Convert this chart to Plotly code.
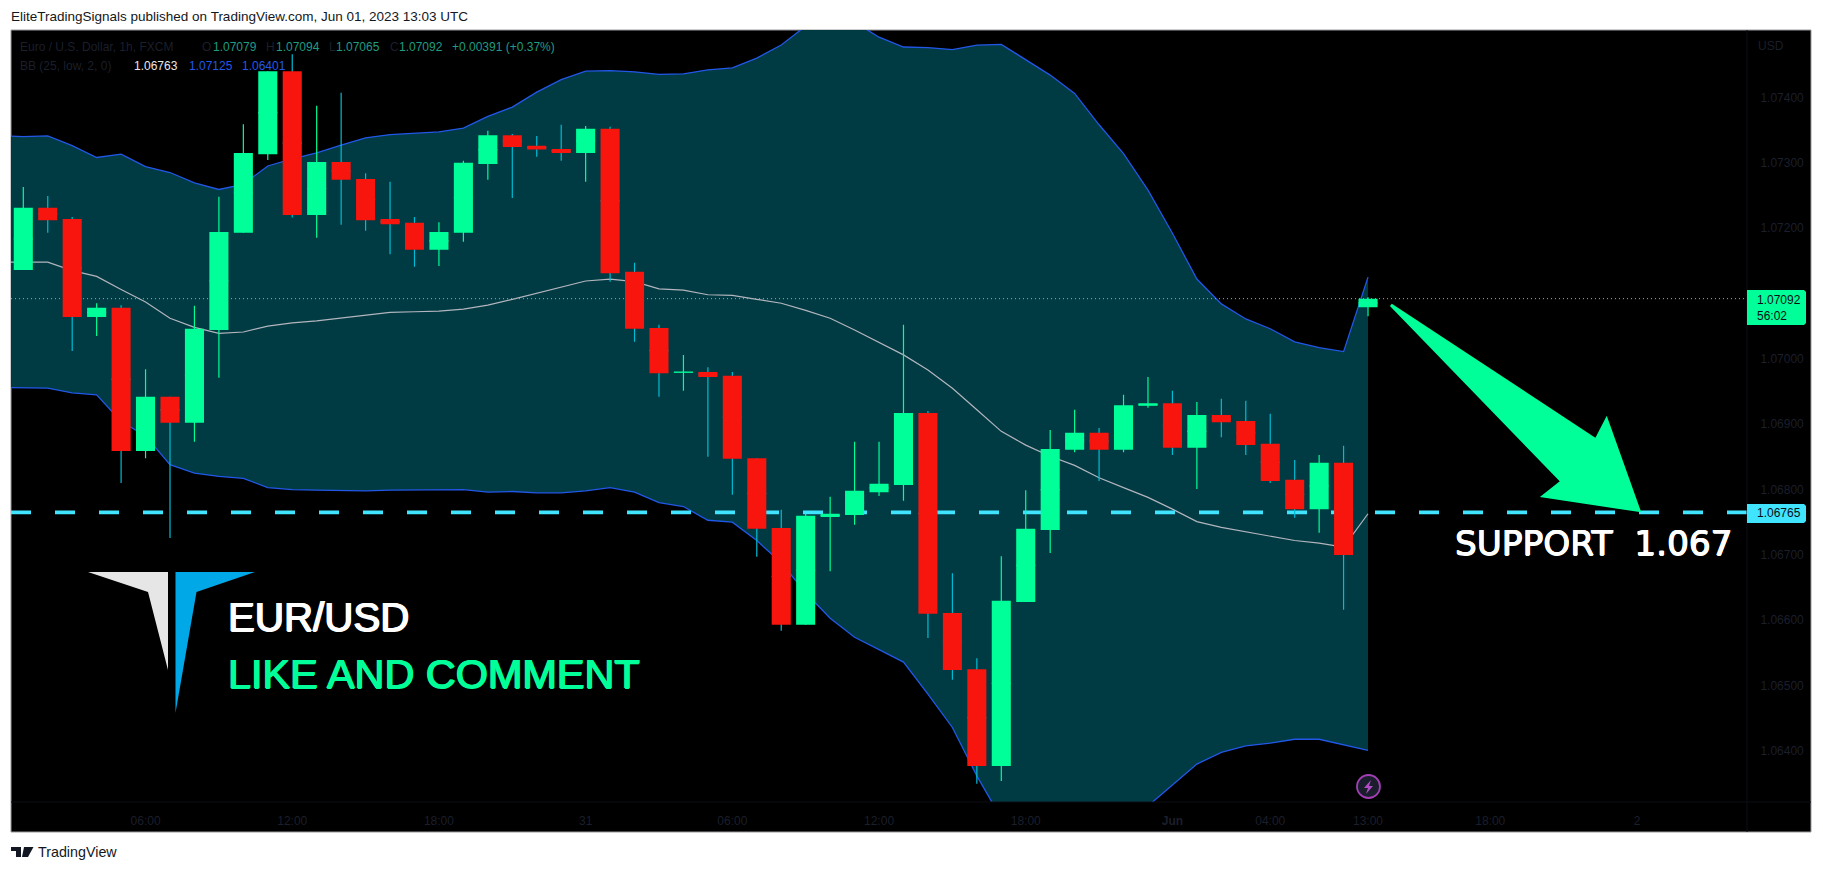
import plotly.graph_objects as go

# ---------- data ----------
opens = [1.07136,1.07231,1.07214,1.07064,1.07078,1.06859,1.06942,1.06902,1.07044,1.07193,
         1.07313,1.07440,1.07220,1.07301,1.07275,1.07214,1.07208,1.07167,1.07193,1.07298,
         1.07342,1.07326,1.07321,1.07315,1.07352,1.07133,1.07047,1.06979,1.06980,1.06974,
         1.06848,1.06741,1.06593,1.06758,1.06761,1.06796,1.06807,1.06917,1.06611,1.06525,
         1.06377,1.06628,1.06738,1.06861,1.06887,1.06861,1.06928,1.06932,1.06864,1.06914,
         1.06905,1.06870,1.06815,1.06770,1.06841,1.07079]
highs = [1.07263,1.07249,1.07217,1.07085,1.07082,1.06984,1.06942,1.07081,1.07248,1.07359,
         1.07440,1.07466,1.07387,1.07407,1.07284,1.07271,1.07217,1.07209,1.07303,1.07349,
         1.07344,1.07341,1.07358,1.07356,1.07355,1.07147,1.07052,1.07006,1.06987,1.06980,
         1.06848,1.06769,1.06763,1.06789,1.06873,1.06873,1.07052,1.06920,1.06672,1.06542,
         1.06698,1.06799,1.06891,1.06922,1.06894,1.06945,1.06972,1.06951,1.06934,1.06939,
         1.06936,1.06916,1.06845,1.06853,1.06867,1.07094]
lows = [1.07136,1.07193,1.07012,1.07035,1.06810,1.06848,1.06726,1.06873,1.06971,1.07193,
        1.07304,1.07216,1.07185,1.07205,1.07196,1.07160,1.07141,1.07142,1.07179,1.07274,
        1.07246,1.07309,1.07303,1.07271,1.07118,1.07026,1.06942,1.06951,1.06850,1.06792,
        1.06697,1.06584,1.06593,1.06675,1.06746,1.06790,1.06783,1.06573,1.06509,1.06350,
        1.06354,1.06628,1.06703,1.06857,1.06813,1.06857,1.06925,1.06853,1.06801,1.06880,
        1.06853,1.06810,1.06757,1.06734,1.06616,1.07065]
closes = [1.07231,1.07212,1.07064,1.07078,1.06859,1.06942,1.06902,1.07046,1.07194,1.07315,
          1.07440,1.07220,1.07301,1.07274,1.07212,1.07206,1.07167,1.07194,1.07300,1.07342,
          1.07324,1.07320,1.07315,1.07352,1.07131,1.07046,1.06978,1.06980,1.06972,1.06847,
          1.06740,1.06593,1.06760,1.06763,1.06798,1.06809,1.06917,1.06610,1.06524,1.06377,
          1.06630,1.06740,1.06862,1.06887,1.06861,1.06929,1.06932,1.06864,1.06914,1.06903,
          1.06868,1.06813,1.06770,1.06841,1.06700,1.07092]
bb_upper = [1.07341,1.07340,1.07341,1.07326,1.07308,1.07313,1.07294,1.07285,1.07269,1.07259,
            1.07267,1.07295,1.07306,1.07315,1.07327,1.07338,1.07343,1.07345,1.07347,1.07353,
            1.07371,1.07385,1.07408,1.07427,1.07440,1.07441,1.07439,1.07435,1.07436,1.07442,
            1.07445,1.07460,1.07480,1.07509,1.07518,1.07515,1.07492,1.07477,1.07476,1.07473,
            1.07480,1.07481,1.07458,1.07434,1.07406,1.07358,1.07314,1.07258,1.07192,1.07122,
            1.07084,1.07061,1.07046,1.07026,1.07017,1.07011,1.07125]
bb_basis = [1.07148,1.07148,1.07148,1.07135,1.07126,1.07106,1.07087,1.07062,1.07048,1.07039,
            1.07041,1.07050,1.07055,1.07058,1.07062,1.07067,1.07071,1.07072,1.07073,1.07076,
            1.07082,1.07091,1.07100,1.07109,1.07119,1.07122,1.07118,1.07107,1.07105,1.07098,
            1.07097,1.07091,1.07085,1.07074,1.07062,1.07044,1.07025,1.07006,1.06983,1.06955,
            1.06922,1.06889,1.06868,1.06851,1.06837,1.06818,1.06803,1.06788,1.06770,1.06751,
            1.06742,1.06735,1.06729,1.06722,1.06718,1.06712,1.06763]
bb_lower = [1.06956,1.06955,1.06955,1.06948,1.06945,1.06904,1.06882,1.06838,1.06825,1.06820,
            1.06817,1.06803,1.06800,1.06799,1.06798,1.06798,1.06799,1.06799,1.06799,1.06800,
            1.06796,1.06797,1.06795,1.06795,1.06798,1.06803,1.06796,1.06780,1.06774,1.06753,
            1.06750,1.06722,1.06688,1.06642,1.06603,1.06574,1.06555,1.06536,1.06487,1.06436,
            1.06362,1.06297,1.06256,1.06233,1.06241,1.06264,1.06294,1.06316,1.06348,1.06380,
            1.06398,1.06408,1.06412,1.06418,1.06418,1.06409,1.06401]
bar_index = list(range(56))
band_index = list(range(-1, 56))
support_level = 1.06765
last_price = 1.07092
# 1.07100 lies under the green price tag in the reference
price_ticks = [1.064,1.065,1.066,1.067,1.068,1.069,1.070,1.072,1.073,1.074]
time_tick_pos = [5,11,17,23,29,35,41,47,51,55,60,66]
time_tick_labels = ["06:00","12:00","18:00","31","06:00","12:00","18:00","<b>Jun</b>","04:00","13:00","18:00","2"]

# ---------- styling ----------
W, H = 1823, 872
PL, PR, PT, PB = 11, 1747, 30, 802
GREEN, RED, WICK, TEAL = "#00FF99", "#F7150D", "#00BCD4", "#003A42"
BLUE, GRAY, CYAN, DIM = "#2258E8", "#B2B5BE", "#40E4FF", "#1B1F2C"
X_RANGE = [-0.503, 70.5]
Y_RANGE = [1.06322, 1.07503]
FONT = "Liberation Sans"

def X(px): return (px - PL) / (PR - PL)
def Y(py): return (PB - py) / (PB - PT)
def path(points, close=True):
    s = "M " + " L ".join(f"{X(a):.5f},{Y(b):.5f}" for a, b in points)
    return s + (" Z" if close else "")
def poly(points, fill, line=None, lw=0, layer="above"):
    return dict(type="path", xref="paper", yref="paper", path=path(points), fillcolor=fill,
                line=dict(color=line or fill, width=lw), layer=layer)
def text(px, py, s, color, size=12, family=FONT, anchor="left", heavy=None):
    font = dict(color=color, size=size, family=family)
    if heavy:
        font["shadow"] = f"{heavy}px 0 0 {color}, -{heavy}px 0 0 {color}, 0 {heavy}px 0 {color}"
    return dict(xref="paper", yref="paper", x=X(px), y=Y(py), text=s, showarrow=False, xanchor=anchor,
                yanchor="middle", borderpad=0, borderwidth=0, font=font)

fig = go.Figure()
# Bollinger band
fig.add_trace(go.Scatter(x=band_index, y=bb_lower, mode="lines", line=dict(color=BLUE, width=1.3), hoverinfo="skip"))
fig.add_trace(go.Scatter(x=band_index, y=bb_upper, mode="lines", line=dict(color=BLUE, width=1.3), fill="tonexty",
                         fillcolor=TEAL, hoverinfo="skip"))
fig.add_trace(go.Scatter(x=band_index, y=bb_basis, mode="lines", line=dict(color=GRAY, width=1.2), hoverinfo="skip"))
fig.add_trace(go.Scatter(x=X_RANGE, y=[last_price, last_price], mode="lines",
                         line=dict(color=GREEN, width=1, dash="1px,3px"), hoverinfo="skip"))
fig.add_trace(go.Scatter(x=X_RANGE, y=[support_level, support_level], mode="lines",
                         line=dict(color=CYAN, width=3.6, dash="20px,24px"), hoverinfo="skip"))

# wicks: one collapsed-body candlestick trace per direction, then the bodies above them
up = [i for i in bar_index if closes[i] >= opens[i]]
dn = [i for i in bar_index if closes[i] < opens[i]]
for idx, col in ((up, GREEN), (dn, WICK)):
    mids = [(opens[i] + closes[i]) / 2 for i in idx]
    fig.add_trace(go.Candlestick(x=idx, open=mids, close=mids,
                                 high=[highs[i] for i in idx], low=[lows[i] for i in idx], yaxis="y2",
                                 increasing=dict(line=dict(color=col, width=1.2), fillcolor=col),
                                 decreasing=dict(line=dict(color=col, width=1.2), fillcolor=col),
                                 hoverinfo="skip"))
fig.add_trace(go.Candlestick(x=bar_index, open=opens, close=closes,
                             high=[max(o, c) for o, c in zip(opens, closes)],
                             low=[min(o, c) for o, c in zip(opens, closes)], yaxis="y2",
                             increasing=dict(line=dict(color=GREEN, width=0), fillcolor=GREEN),
                             decreasing=dict(line=dict(color=RED, width=0), fillcolor=RED),
                             hoverinfo="skip"))

shapes = [
    dict(type="rect", xref="paper", yref="paper", x0=X(PL), x1=X(1811), y0=Y(832), y1=Y(PT),
         fillcolor="#000000", line=dict(color="#9A9AA0", width=1), layer="below"),
    dict(type="line", xref="paper", yref="paper", x0=X(PR), x1=X(PR), y0=Y(832), y1=Y(PT),
         line=dict(color="#0D0F15", width=1), layer="above"),
    dict(type="line", xref="paper", yref="paper", x0=X(PL), x1=X(1811), y0=Y(PB), y1=Y(PB),
         line=dict(color="#0D0F15", width=1), layer="above"),
    # price tags
    poly([(PR, 290), (1804, 290), (1806, 292), (1806, 323), (1804, 325), (PR, 325)], GREEN),
    poly([(PR, 504), (1804, 504), (1806, 506), (1806, 521), (1804, 523), (PR, 523)], CYAN),
    # target arrow
    poly([(1391, 305), (1596, 440), (1606.5, 419.5), (1639, 510.5), (1543.5, 496), (1562, 481.5)], GREEN, GREEN, 3),
    # brand logo
    poly([(88, 572), (168, 572), (168, 670), (148, 592)], "#E6E6E6"),
    poly([(175.5, 572), (255, 572), (196.5, 592), (175.5, 713)], "#00A8E8"),
    # alert badge
    dict(type="circle", xref="paper", yref="paper", x0=X(1357), x1=X(1380), y0=Y(798), y1=Y(775),
         fillcolor="#1A1D2B", line=dict(color="#A23FB5", width=1.8), layer="above"),
    poly([(1371, 780), (1364, 788), (1368, 788), (1366, 794), (1373, 786), (1369, 786)], "#B14CC4"),
    # TradingView mark
    poly([(11, 847), (21, 847), (21, 857), (16, 857), (16, 851), (11, 851)], "#131722"),
    poly([(24, 847), (33.5, 847), (28, 857), (22, 857)], "#131722"),
]

VALUE = "#1F9C82"
annotations = [
    text(11, 17, "EliteTradingSignals published on TradingView.com, Jun 01, 2023 13:03 UTC", "#131722", 13.5),
    text(38, 852, "TradingView", "#131722", 14.3),
    text(20, 47, "Euro / U.S. Dollar, 1h, FXCM", DIM),
    text(201.7, 47, "O", DIM), text(212.7, 47, "1.07079", VALUE),
    text(265.7, 47, "H", DIM), text(275.6, 47, "1.07094", VALUE),
    text(329, 47, "L", DIM), text(336, 47, "1.07065", VALUE),
    text(389.5, 47, "C", DIM), text(398.6, 47, "1.07092", VALUE),
    text(452, 47, "+0.00391 (+0.37%)", VALUE),
    text(20, 66, "BB (25, low, 2, 0)", DIM),
    text(134.4, 66, "1.06763", "#E8E8E8"), text(188.6, 66, "1.07125", BLUE), text(242, 66, "1.06401", BLUE),
    text(1758, 46, "USD", DIM),
    text(1757, 300, "1.07092", "#0B0D14"), text(1757, 316, "56:02", "#0B0D14"),
    text(1757, 513, "1.06765", "#0B0D14"),
    text(1455, 543, "SUPPORT\u00a0\u00a01.067", "#FFFFFF", 34.3, "DejaVu Sans", heavy=0.6),
    text(227.5, 617, "EUR/USD", "#FFFFFF", 40.3, heavy=0.8),
    text(227.5, 674, "LIKE AND COMMENT", GREEN, 41.4, heavy=0.8),
]

fig.update_layout(
    width=W, height=H, margin=dict(l=PL, r=W - PR, t=PT, b=H - PB), autosize=False,
    paper_bgcolor="#FFFFFF", plot_bgcolor="#000000", showlegend=False, boxgap=0.22, boxgroupgap=0,
    font=dict(family=FONT, size=12, color=DIM), hovermode=False, shapes=shapes, annotations=annotations,
    xaxis=dict(range=X_RANGE, tickmode="array", tickvals=time_tick_pos, ticktext=time_tick_labels,
               showgrid=False, zeroline=False, showline=False, ticks="outside", ticklen=8,
               tickcolor="rgba(0,0,0,0)", tickfont=dict(color=DIM, size=12, family=FONT), rangeslider=dict(visible=False)),
    yaxis=dict(range=Y_RANGE, side="right", tickmode="array", tickvals=price_ticks,
               ticktext=[f"{v:.5f}" for v in price_ticks], showgrid=False, zeroline=False, showline=False,
               ticks="outside", ticklen=10, tickcolor="rgba(0,0,0,0)", tickfont=dict(color=DIM, size=12, family=FONT)),
    yaxis2=dict(range=Y_RANGE, overlaying="y", side="right", visible=False, showgrid=False, zeroline=False),
)

fig.write_html("out.html", config={"displayModeBar": False},
               post_script="document.body.style.margin='0';document.body.style.overflow='hidden';")
